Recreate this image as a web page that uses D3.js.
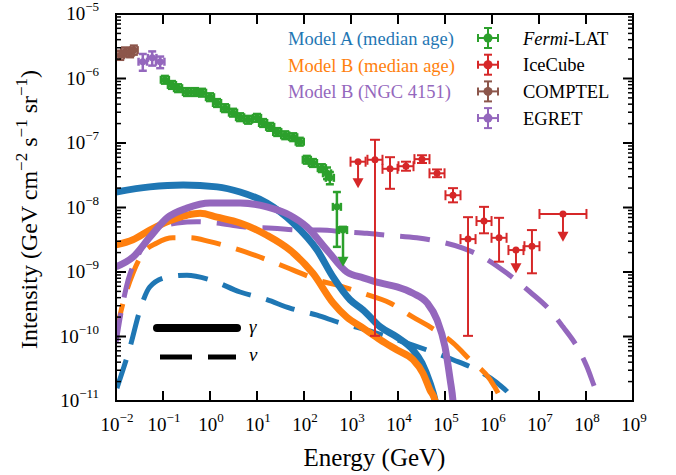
<!DOCTYPE html>
<html lang="en">
<head>
<meta charset="UTF-8">
<title>Intensity vs Energy</title>
<style>
  body { margin: 0; background: #fff; }
  svg, svg text { display: block; font-family: 'Liberation Serif', 'Times New Roman', Times, 'DejaVu Serif', serif; }
</style>
</head>
<body>
<svg id="chart" width="676" height="475" font-family="Liberation Serif, Times New Roman, DejaVu Serif, serif"></svg>
<script src="https://cdnjs.cloudflare.com/ajax/libs/d3/7.8.5/d3.min.js"></script>
<script>
// ------------------------------------------------------------------
// data, all values as [log10 E (GeV), log10 I (GeV cm^-2 s^-1 sr^-1)]

const modelA_gamma = [[-2.0,-7.76],[-1.28,-7.68],[-0.57,-7.65],[0.15,-7.68],[0.64,-7.76],[1.21,-7.93],
  [1.77,-8.24],[2.28,-8.66],[2.62,-9.08],[2.98,-9.43],[3.26,-9.59],[3.62,-9.85],[3.98,-10.01],
  [4.32,-10.21],[4.51,-10.41],[4.68,-10.72],[4.79,-11.0],[4.86,-11.3]];
const modelA_nu = [[-1.98,-10.8],[-1.70,-10.16],[-1.49,-9.59],[-1.28,-9.23],[-0.91,-9.08],[-0.49,-9.05],
  [0.0,-9.12],[0.64,-9.31],[1.21,-9.43],[1.70,-9.56],[2.28,-9.67],[2.77,-9.79],[3.19,-9.87],
  [3.98,-10.05],[4.62,-10.21],[5.17,-10.36],[5.68,-10.52],[6.11,-10.72],[6.45,-10.98],[6.6,-11.2]];

const modelB_gamma = [[-2.0,-8.58],[-1.64,-8.50],[-1.28,-8.35],[-0.91,-8.22],[-0.49,-8.12],[-0.21,-8.09],
  [0.15,-8.15],[0.64,-8.24],[1.21,-8.43],[1.70,-8.66],[2.19,-9.02],[2.62,-9.48],[2.91,-9.70],
  [3.26,-9.87],[3.62,-10.05],[3.98,-10.21],[4.32,-10.36],[4.53,-10.57],[4.68,-10.83],[4.79,-11.0],[4.86,-11.3]];
const modelB_nu = [[-2.0,-9.95],[-1.85,-9.48],[-1.64,-9.02],[-1.43,-8.71],[-1.13,-8.55],[-0.79,-8.47],
  [-0.43,-8.47],[0.0,-8.53],[0.64,-8.66],[1.21,-8.81],[1.77,-8.97],[2.28,-9.12],[2.83,-9.23],
  [3.26,-9.33],[3.83,-9.48],[4.32,-9.70],[4.68,-9.85],[5.17,-10.10],[5.53,-10.36],[5.96,-10.67],
  [6.17,-10.94],[6.3,-11.2]];

const ngc_gamma = [[-2.0,-8.92],[-1.64,-8.77],[-1.28,-8.46],[-0.91,-8.16],[-0.49,-8.01],[0.0,-7.93],
  [0.64,-7.93],[1.21,-7.99],[1.70,-8.12],[2.06,-8.30],[2.49,-8.66],[2.91,-9.00],[3.26,-9.09],
  [3.62,-9.17],[3.98,-9.23],[4.32,-9.33],[4.62,-9.48],[4.83,-9.74],[5.0,-10.16],[5.11,-10.67],
  [5.17,-11.0],[5.2,-11.3]];
const ngc_nu = [[-2.0,-10.1],[-1.87,-9.54],[-1.74,-9.12],[-1.55,-8.77],[-1.34,-8.50],[-1.06,-8.32],
  [-0.70,-8.24],[-0.28,-8.22],[0.15,-8.24],[0.70,-8.30],[1.34,-8.32],[1.91,-8.35],[2.34,-8.35],
  [2.91,-8.38],[3.34,-8.40],[3.77,-8.43],[4.40,-8.47],[4.89,-8.53],[5.38,-8.63],[5.81,-8.77],
  [6.32,-9.02],[6.81,-9.31],[7.23,-9.59],[7.51,-9.85],[7.81,-10.16],[8.02,-10.47],[8.19,-10.80],
  [8.30,-11.0],[8.36,-11.2]];

// measurements: e, i, half bin width ex, error bounds lo/hi, ul = arrow end for upper limits
const fermiLAT = [
  {e:-0.96,i:-6.02},{e:-0.81,i:-6.10},{e:-0.68,i:-6.15},{e:-0.49,i:-6.21},{e:-0.32,i:-6.21},
  {e:-0.17,i:-6.22},{e:0.0,i:-6.29},{e:0.15,i:-6.38},{e:0.32,i:-6.46},{e:0.49,i:-6.53},
  {e:0.64,i:-6.60},{e:0.81,i:-6.64},{e:1.0,i:-6.61},{e:1.13,i:-6.69},{e:1.28,i:-6.75},
  {e:1.43,i:-6.83},{e:1.60,i:-6.88},{e:1.77,i:-6.91},{e:1.91,i:-6.98},{e:2.06,i:-7.26},
  {e:2.19,i:-7.31},{e:2.38,i:-7.39},{e:2.49,i:-7.47,lo:-7.56,hi:-7.38},{e:2.55,i:-7.54,lo:-7.64,hi:-7.45},
  {e:2.70,i:-7.99,lo:-8.61,hi:-7.76},{e:2.83,i:-8.35,hi:-8.30,ul:-8.92}
];
const iceCube = [
  {e:3.15,i:-7.29,ul:-7.70},{e:3.51,i:-7.26,lo:-9.99,hi:-6.95},{e:3.83,i:-7.40,lo:-7.71,hi:-7.22},
  {e:4.17,i:-7.36,lo:-7.43,hi:-7.29},{e:4.51,i:-7.25,lo:-7.31,hi:-7.19},{e:4.83,i:-7.47,lo:-7.53,hi:-7.41},
  {e:5.17,i:-7.81,lo:-7.92,hi:-7.70},{e:5.49,i:-8.49,lo:-9.99,hi:-8.15},{e:5.83,i:-8.21,lo:-8.40,hi:-7.99},
  {e:6.15,i:-8.47,lo:-8.84,hi:-8.16},{e:6.51,i:-8.66,ul:-9.02},{e:6.85,i:-8.60,lo:-9.02,hi:-8.35},
  {e:7.51,i:-8.10,ex:0.5,ul:-8.53}
];
const comptel = [{e:-1.91,i:-5.64},{e:-1.81,i:-5.59},{e:-1.70,i:-5.60},{e:-1.62,i:-5.56}];
const egret = [{e:-1.43,i:-5.74,lo:-5.88,hi:-5.62},{e:-1.23,i:-5.68,lo:-5.80,hi:-5.58},{e:-1.06,i:-5.74,lo:-5.84,hi:-5.66}];

const xTicks = d3.range(-2, 10);
const yTicks = d3.range(-11, -4);

// ------------------------------------------------------------------
const C = { blue:"#1f77b4", orange:"#ff7f0e", purple:"#9467bd", green:"#2ca02c", red:"#d62728", brown:"#8c564b" };
const SERIF = "Liberation Serif, Times New Roman, DejaVu Serif, serif";

const pL = 116, pR = 633, pT = 14, pB = 401;
const x = d3.scaleLog().domain([1e-2, 1e9]).range([pL, pR]);
const y = d3.scaleLog().domain([1e-11, 1e-5]).range([pB, pT]);

const svg = d3.select("#chart");

svg.append("defs").append("clipPath").attr("id", "clip")
  .append("rect").attr("x", pL).attr("y", pT).attr("width", pR - pL).attr("height", pB - pT);

const plot = svg.append("g").attr("clip-path", "url(#clip)");

const line = d3.line()
  .x(d => x(10 ** d[0]))
  .y(d => y(10 ** d[1]))
  .curve(d3.curveMonotoneX);

function drawCurve(data, color, dashed) {
  plot.append("path")
    .attr("d", line(data))
    .attr("fill", "none")
    .attr("stroke", color)
    .attr("stroke-width", dashed ? 5 : 7)
    .attr("stroke-linejoin", "round")
    .attr("stroke-dasharray", dashed ? "30,16" : null);
}

drawCurve(modelA_nu, C.blue, true);
drawCurve(modelB_nu, C.orange, true);
drawCurve(ngc_nu, C.purple, true);
drawCurve(modelA_gamma, C.blue, false);
drawCurve(modelB_gamma, C.orange, false);
drawCurve(ngc_gamma, C.purple, false);

// error bar points
function drawPoints(rows, color, opt) {
  const g = plot.append("g").attr("stroke", color).attr("fill", color).attr("stroke-width", opt.sw || 2);
  rows.forEach(r => {
    const cx = x(10 ** r.e), cy = y(10 ** r.i);
    const ex = r.ex != null ? r.ex : opt.ex;
    const x0 = x(10 ** (r.e - ex)), x1 = x(10 ** (r.e + ex));
    const yHi = y(10 ** (r.hi != null ? r.hi : r.i + opt.ey));
    g.append("line").attr("x1", x0).attr("x2", x1).attr("y1", cy).attr("y2", cy);
    [x0, x1].forEach(xx => g.append("line").attr("x1", xx).attr("x2", xx)
      .attr("y1", cy - opt.cap).attr("y2", cy + opt.cap));
    if (r.ul != null) {
      const ya = y(10 ** r.ul);
      g.append("line").attr("x1", cx).attr("x2", cx).attr("y1", cy).attr("y2", ya - 9);
      g.append("path").attr("stroke", "none")
        .attr("d", `M${cx - 5.5},${ya - 10}L${cx + 5.5},${ya - 10}L${cx},${ya}Z`);
      if (r.hi != null) {
        g.append("line").attr("x1", cx).attr("x2", cx).attr("y1", cy).attr("y2", yHi);
        g.append("line").attr("x1", cx - opt.cap).attr("x2", cx + opt.cap).attr("y1", yHi).attr("y2", yHi);
      }
    } else {
      const yLo = y(10 ** (r.lo != null ? r.lo : r.i - opt.ey));
      g.append("line").attr("x1", cx).attr("x2", cx).attr("y1", yHi).attr("y2", yLo);
      [yHi, yLo].forEach(yy => g.append("line").attr("x1", cx - opt.cap).attr("x2", cx + opt.cap)
        .attr("y1", yy).attr("y2", yy));
    }
    g.append("circle").attr("cx", cx).attr("cy", cy).attr("r", opt.r).attr("stroke", "none");
  });
}

drawPoints(comptel, C.brown, { ex: 0.08, ey: 0.07, cap: 4, r: 3.5, sw: 2.5 });
drawPoints(egret, C.purple, { ex: 0.09, ey: 0.07, cap: 4, r: 3.5, sw: 2.5 });
drawPoints(fermiLAT, C.green, { ex: 0.085, ey: 0.06, cap: 4, r: 3.5, sw: 2.5 });
drawPoints(iceCube, C.red, { ex: 0.16, ey: 0.05, cap: 5, r: 3.5 });

// ------------------------------------------------------------------
// frame and ticks
const axis = svg.append("g").attr("stroke", "#000");
axis.append("rect").attr("x", pL).attr("y", pT).attr("width", pR - pL).attr("height", pB - pT)
  .attr("fill", "none").attr("stroke-width", 2);

xTicks.forEach(k => {
  const xx = x(10 ** k);
  axis.append("line").attr("x1", xx).attr("x2", xx).attr("y1", pB).attr("y2", pB - 10).attr("stroke-width", 2);
  axis.append("line").attr("x1", xx).attr("x2", xx).attr("y1", pT).attr("y2", pT + 10).attr("stroke-width", 2);
});
yTicks.forEach(k => {
  const yy = y(10 ** k);
  axis.append("line").attr("x1", pL).attr("x2", pL + 10).attr("y1", yy).attr("y2", yy).attr("stroke-width", 2);
  axis.append("line").attr("x1", pR).attr("x2", pR - 10).attr("y1", yy).attr("y2", yy).attr("stroke-width", 2);
  if (k < -5) {
    d3.range(2, 10).forEach(m => {
      const ym = y(m * 10 ** k);
      axis.append("line").attr("x1", pL).attr("x2", pL + 5).attr("y1", ym).attr("y2", ym).attr("stroke-width", 1.5);
      axis.append("line").attr("x1", pR).attr("x2", pR - 5).attr("y1", ym).attr("y2", ym).attr("stroke-width", 1.5);
    });
  }
});

const txt = svg.append("g").attr("font-family", SERIF);

function power(sel, k) {
  sel.append("tspan").text("10");
  sel.append("tspan").attr("dy", -9).attr("font-size", 13).text(String(k).replace("-", "\u2212"));
}

xTicks.forEach(k => {
  txt.append("text").attr("x", x(10 ** k) + 1).attr("y", 431)
    .attr("text-anchor", "middle").attr("font-size", 19).call(power, k);
});
yTicks.forEach(k => {
  txt.append("text").attr("x", 99).attr("y", y(10 ** k) + 6)
    .attr("text-anchor", "end").attr("font-size", 19).call(power, k);
});

txt.append("text").attr("x", (pL + pR) / 2).attr("y", 466)
  .attr("text-anchor", "middle").attr("font-size", 25).text("Energy (GeV)");

const yl = txt.append("text").attr("transform", `translate(37,${(pT + pB) / 2 + 2}) rotate(-90)`)
  .attr("text-anchor", "middle").attr("font-size", 24);
yl.append("tspan").text("Intensity (GeV cm");
yl.append("tspan").attr("dy", -10).attr("font-size", 17).text("\u22122");
yl.append("tspan").attr("dy", 10).text(" s");
yl.append("tspan").attr("dy", -10).attr("font-size", 17).text("\u22121");
yl.append("tspan").attr("dy", 10).text(" sr");
yl.append("tspan").attr("dy", -10).attr("font-size", 17).text("\u22121");
yl.append("tspan").attr("dy", 10).text(")");

// ------------------------------------------------------------------
// legends
const modelNames = [["Model A (median age)", C.blue], ["Model B (median age)", C.orange], ["Model B (NGC 4151)", C.purple]];
modelNames.forEach((d, i) => {
  txt.append("text").attr("x", 288).attr("y", 45 + i * 26.7).attr("font-size", 18.5)
    .attr("fill", d[1]).text(d[0]);
});

const dataNames = [["Fermi", C.green], ["IceCube", C.red], ["COMPTEL", C.brown], ["EGRET", C.purple]];
dataNames.forEach((d, i) => {
  const cy = 38 + i * 26.7, cx = 488;
  const g = svg.append("g").attr("stroke", d[1]).attr("fill", d[1]).attr("stroke-width", 2);
  g.append("line").attr("x1", cx - 10).attr("x2", cx + 10).attr("y1", cy).attr("y2", cy);
  g.append("line").attr("x1", cx).attr("x2", cx).attr("y1", cy - 10).attr("y2", cy + 10);
  [-10, 10].forEach(o => {
    g.append("line").attr("x1", cx + o).attr("x2", cx + o).attr("y1", cy - 4).attr("y2", cy + 4);
    g.append("line").attr("x1", cx - 4).attr("x2", cx + 4).attr("y1", cy + o).attr("y2", cy + o);
  });
  g.append("circle").attr("cx", cx).attr("cy", cy).attr("r", 4.5).attr("stroke", "none");
  const t = txt.append("text").attr("x", 523).attr("y", cy + 6.5).attr("font-size", 18.5);
  if (i === 0) {
    t.append("tspan").attr("font-style", "italic").text("Fermi");
    t.append("tspan").text("-LAT");
  } else {
    t.text(d[0]);
  }
});

// gamma / nu line style key
svg.append("line").attr("x1", 157).attr("x2", 237).attr("y1", 328).attr("y2", 328)
  .attr("stroke", "#000").attr("stroke-width", 8).attr("stroke-linecap", "round");
svg.append("line").attr("x1", 160).attr("x2", 236).attr("y1", 357).attr("y2", 357)
  .attr("stroke", "#000").attr("stroke-width", 5).attr("stroke-dasharray", "32,16");
txt.append("text").attr("x", 249).attr("y", 333).attr("font-size", 19).attr("font-style", "italic").text("\u03b3");
txt.append("text").attr("x", 249).attr("y", 361).attr("font-size", 19).attr("font-style", "italic").text("\u03bd");
</script>
</body>
</html>
